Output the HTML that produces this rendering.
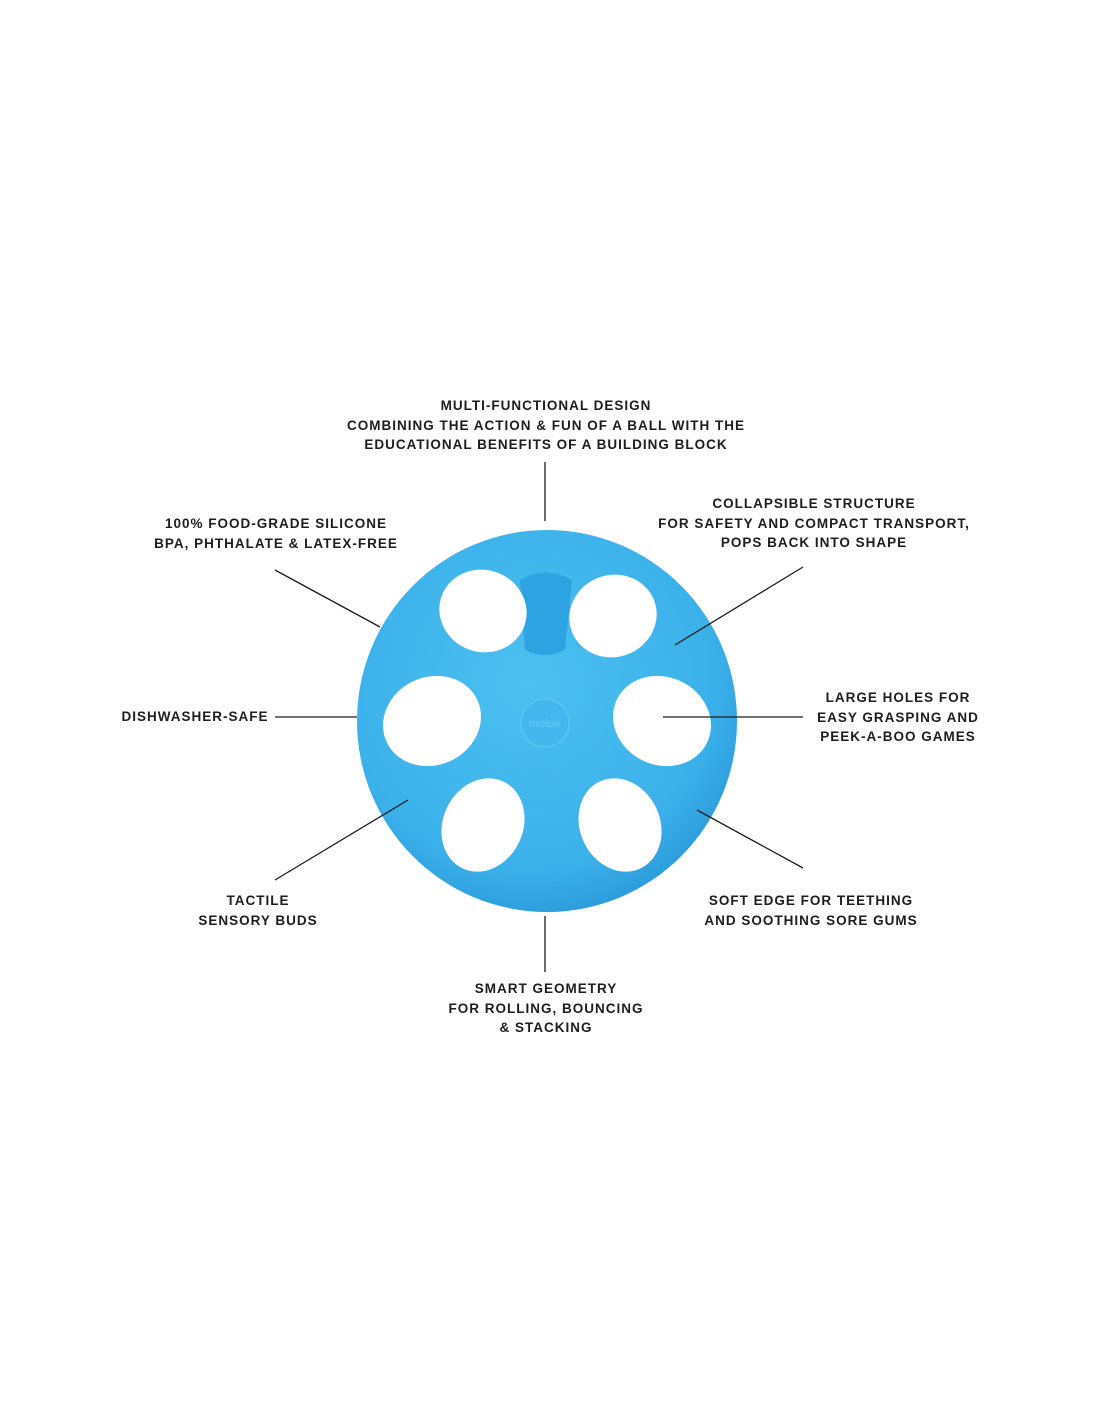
<!DOCTYPE html>
<html><head><meta charset="utf-8"><style>
html,body{margin:0;padding:0;background:#fff}
body{width:1100px;height:1422px;position:relative;overflow:hidden;font-family:"Liberation Sans",sans-serif}
.t{position:absolute;font-weight:bold;font-size:13.5px;letter-spacing:1px;line-height:19.5px;color:#1d1d1d;white-space:nowrap;text-align:center;transform:translateX(-50%)}
</style></head><body>
<svg width="1100" height="1422" style="position:absolute;left:0;top:0">
<defs>
<radialGradient id="g" cx="0.45" cy="0.4" r="0.65">
<stop offset="0" stop-color="#4cc0f0"/><stop offset="0.75" stop-color="#3bb1ea"/><stop offset="1" stop-color="#2897d8"/>
</radialGradient>
</defs>
<ellipse cx="547" cy="721" rx="190" ry="191" fill="url(#g)"/>
<path d="M520 580 Q545 565 572 580 L565 650 Q545 660 525 650 Z" fill="#2da3e2"/>
<g fill="#fff">
<ellipse cx="483" cy="611" rx="44" ry="41" transform="rotate(20 483 611)"/>
<ellipse cx="613" cy="616" rx="44" ry="41" transform="rotate(-20 613 616)"/>
<ellipse cx="432" cy="721" rx="50" ry="44" transform="rotate(-25 432 721)"/>
<ellipse cx="662" cy="721" rx="50" ry="44" transform="rotate(25 662 721)"/>
<ellipse cx="483" cy="825" rx="40" ry="48" transform="rotate(25 483 825)"/>
<ellipse cx="620" cy="825" rx="40" ry="48" transform="rotate(-25 620 825)"/>
</g>
<circle cx="545" cy="723" r="24" fill="#44b8ee" stroke="#5cc4f2" stroke-width="1.5"/>
<text x="545" y="727" font-family="Liberation Sans" font-weight="bold" font-size="11" fill="#5cc6f4" text-anchor="middle">moluk</text>
<g stroke="#1d1d1d" stroke-width="1.3">
<line x1="545" y1="462" x2="545" y2="521"/>
<line x1="275" y1="570" x2="380" y2="627"/>
<line x1="803" y1="567" x2="675" y2="645"/>
<line x1="275" y1="717" x2="357" y2="717"/>
<line x1="663" y1="717" x2="803" y2="717"/>
<line x1="275" y1="880" x2="408" y2="800"/>
<line x1="697" y1="810" x2="803" y2="868"/>
<line x1="545" y1="916" x2="545" y2="972"/>
</g>
</svg>
<div class="t" style="left:546px;top:396px">MULTI-FUNCTIONAL DESIGN<br>COMBINING THE ACTION &amp; FUN OF A BALL WITH THE<br>EDUCATIONAL BENEFITS OF A BUILDING BLOCK</div>
<div class="t" style="left:276px;top:514px">100% FOOD-GRADE SILICONE<br>BPA, PHTHALATE &amp; LATEX-FREE</div>
<div class="t" style="left:814px;top:494px">COLLAPSIBLE STRUCTURE<br>FOR SAFETY AND COMPACT TRANSPORT,<br>POPS BACK INTO SHAPE</div>
<div class="t" style="left:195px;top:707px">DISHWASHER-SAFE</div>
<div class="t" style="left:898px;top:688px">LARGE HOLES FOR<br>EASY GRASPING AND<br>PEEK-A-BOO GAMES</div>
<div class="t" style="left:258px;top:891px">TACTILE<br>SENSORY BUDS</div>
<div class="t" style="left:811px;top:891px">SOFT EDGE FOR TEETHING<br>AND SOOTHING SORE GUMS</div>
<div class="t" style="left:546px;top:979px">SMART GEOMETRY<br>FOR ROLLING, BOUNCING<br>&amp; STACKING</div>
</body></html>
